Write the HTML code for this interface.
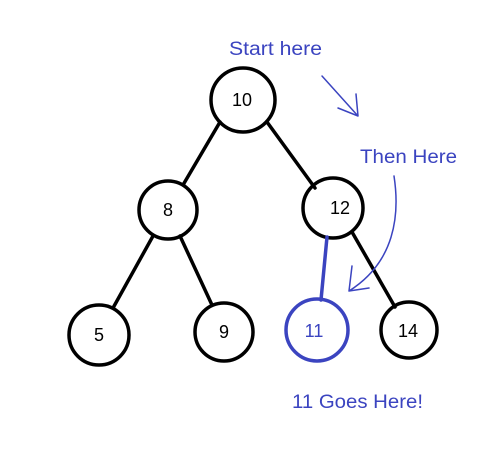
<!DOCTYPE html>
<html><head><style>
html,body{margin:0;padding:0;background:#fff;}
svg{display:block}
text{font-family:"Liberation Sans",sans-serif;}
</style></head><body>
<svg width="490" height="451" viewBox="0 0 490 451" xmlns="http://www.w3.org/2000/svg">
<g stroke="#000" stroke-width="3.5" fill="none" stroke-linecap="round">
<line x1="220" y1="122" x2="183" y2="185"/>
<line x1="267" y1="122" x2="315" y2="188"/>
<line x1="153" y1="236" x2="113" y2="308"/>
<line x1="180" y1="236" x2="212" y2="305"/>
<line x1="352" y1="232" x2="395" y2="307"/>
<circle cx="243" cy="100" r="32"/>
<circle cx="168" cy="210" r="29"/>
<circle cx="333" cy="208" r="30"/>
<circle cx="99" cy="335" r="30"/>
<circle cx="224" cy="332" r="29"/>
<circle cx="409" cy="330" r="28"/>
</g>
<g stroke="#3b44c0" fill="none" stroke-linecap="round" stroke-linejoin="round">
<line x1="327" y1="237" x2="321" y2="300" stroke-width="3.5"/>
<circle cx="317" cy="330" r="31" stroke-width="3.5"/>
<path d="M322 76 L358 116 M338 108 L358 116 L356 94" stroke-width="1.5"/>
<path d="M394 176 C400 215 395 262 349 291 M352 266 L349 291 L369 288" stroke-width="1.5"/>
</g>
<g font-size="18" text-anchor="middle">
<text x="242" y="106">10</text>
<text x="168" y="216">8</text>
<text x="340" y="214">12</text>
<text x="99" y="341">5</text>
<text x="224" y="338">9</text>
<text x="408" y="337">14</text>
<text x="314" y="337" fill="#3b44c0">11</text>
</g>
<g font-size="19" fill="#3b44c0">
<text x="229" y="55" textLength="93" lengthAdjust="spacingAndGlyphs">Start here</text>
<text x="360" y="163" textLength="97" lengthAdjust="spacingAndGlyphs">Then Here</text>
<text x="292" y="408" textLength="131" lengthAdjust="spacingAndGlyphs">11 Goes Here!</text>
</g>
</svg>
</body></html>
